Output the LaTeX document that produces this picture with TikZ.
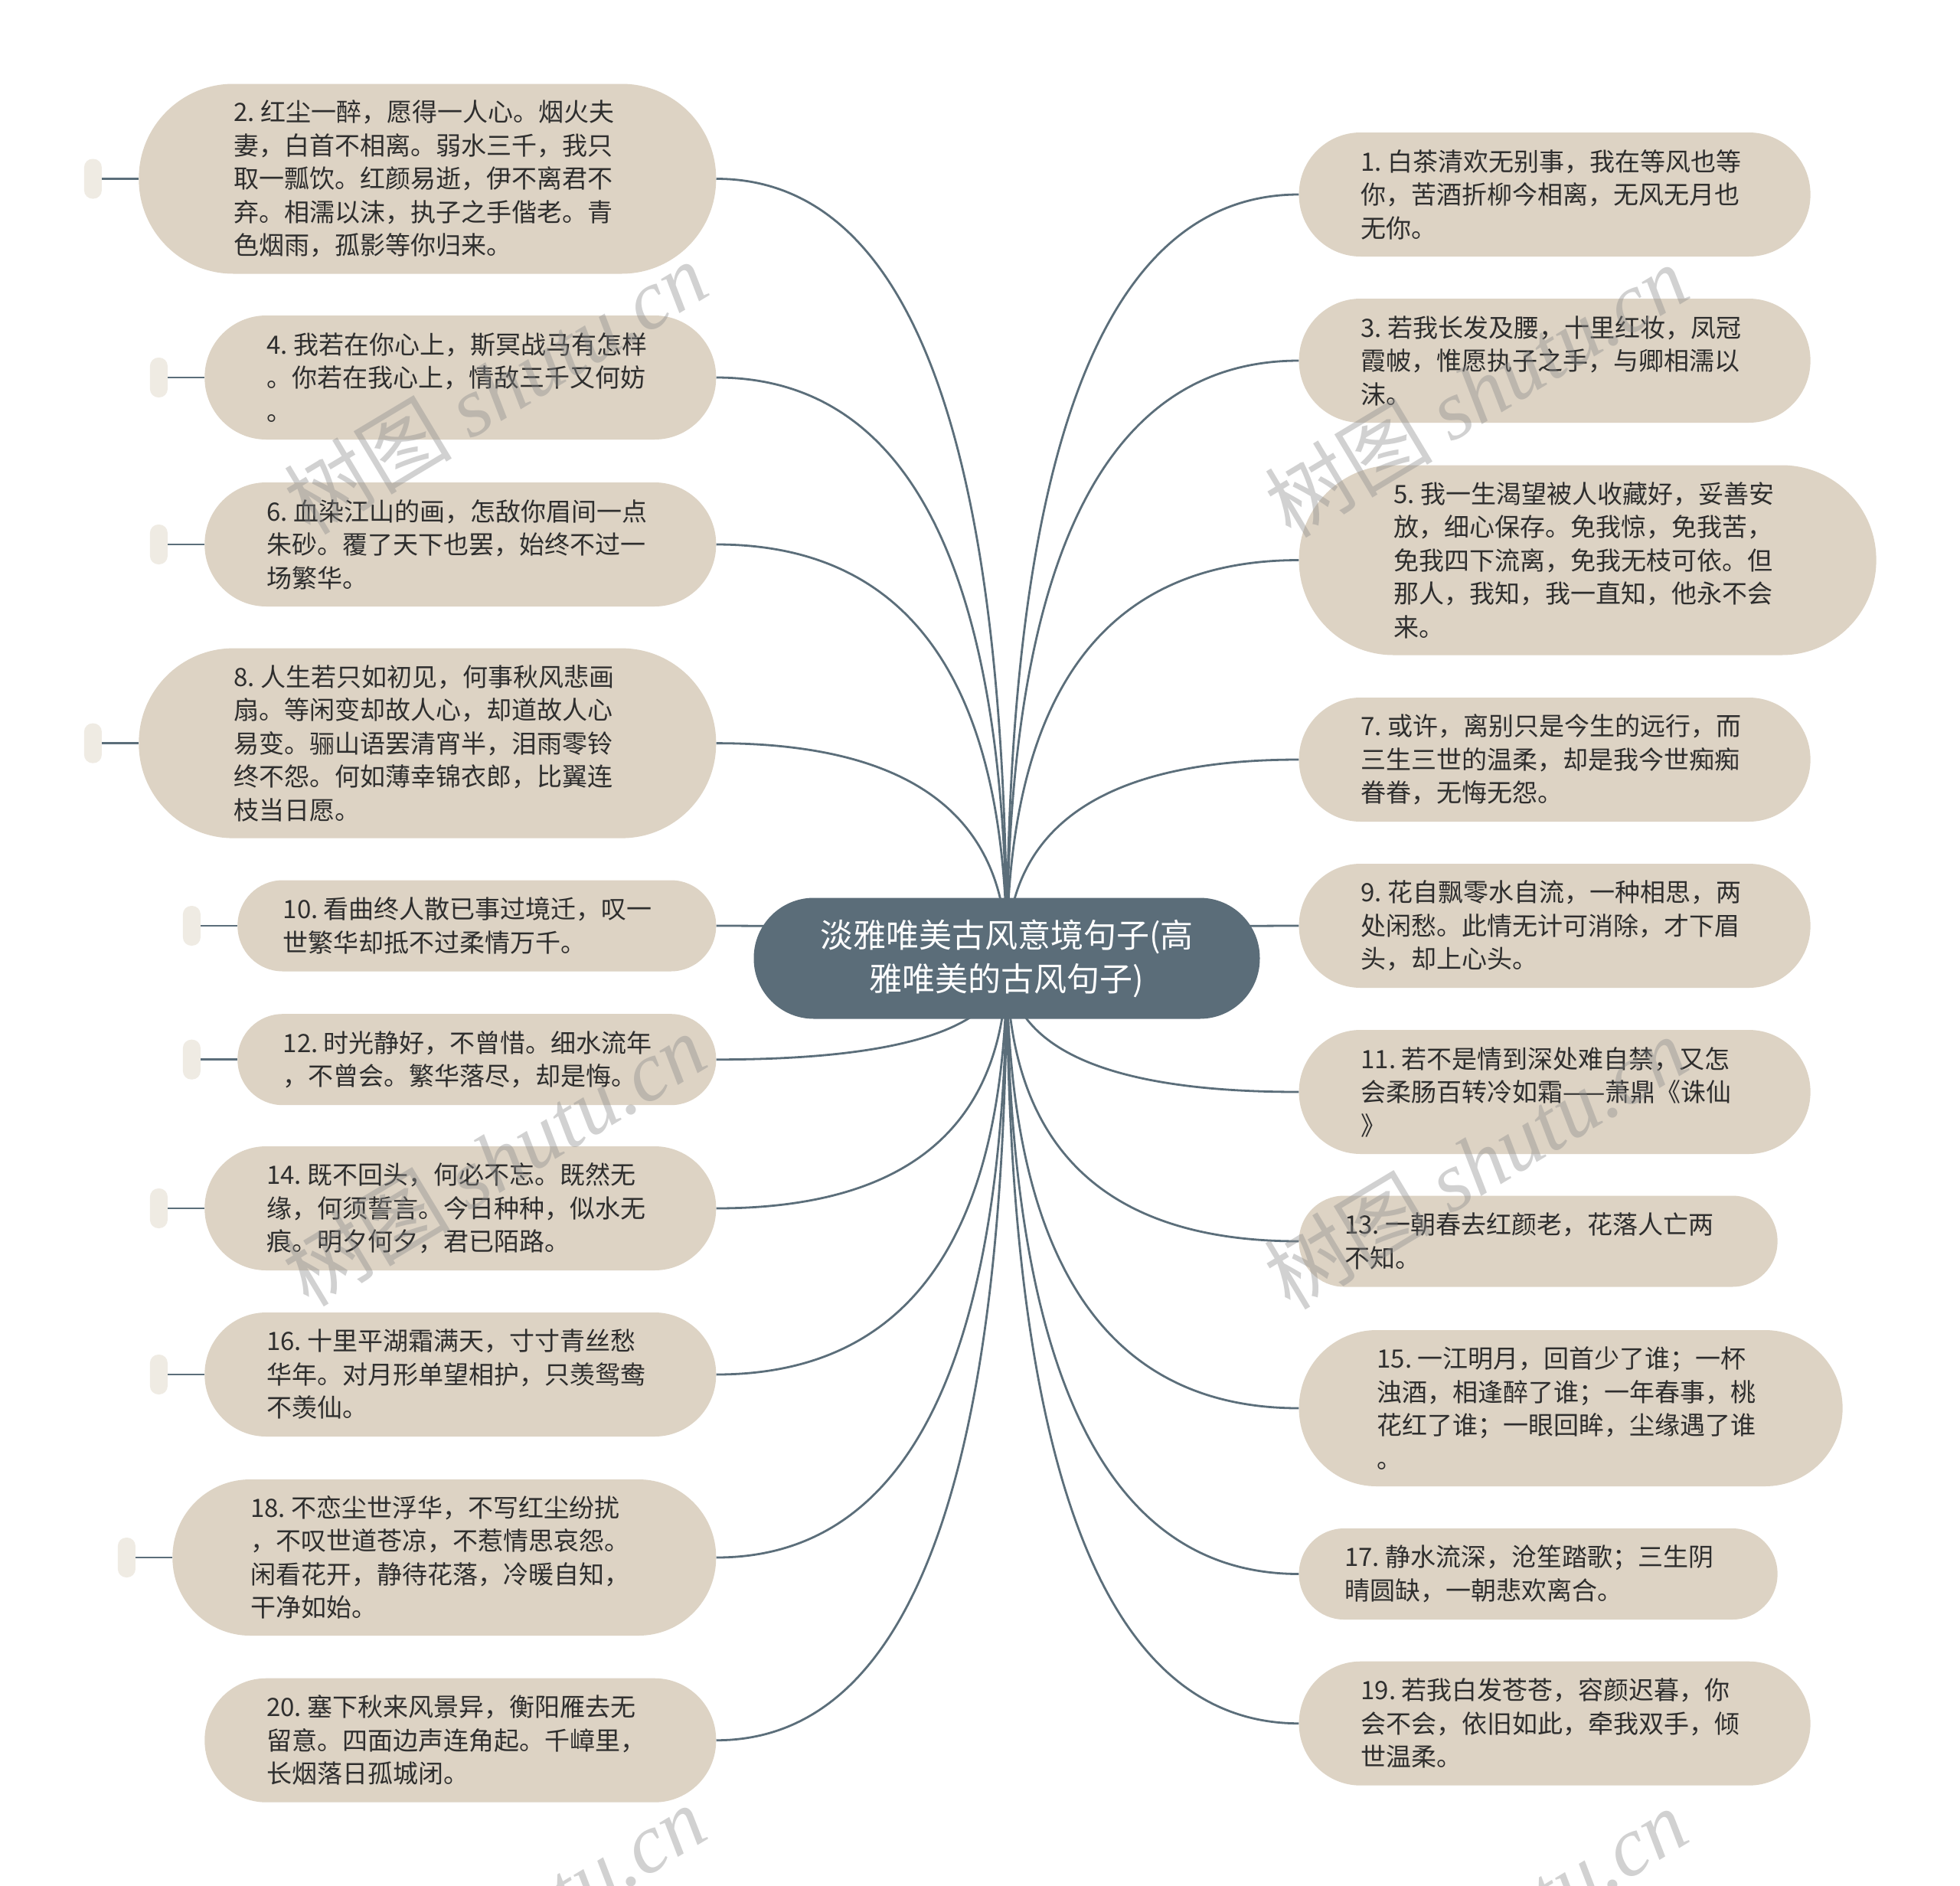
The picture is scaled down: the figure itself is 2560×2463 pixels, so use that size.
\documentclass[tikz,border=0pt]{standalone}
\usepackage{fontspec}
\setmainfont{Noto Sans CJK SC}
\newfontfamily\wmcjk{Noto Sans CJK SC}
\newfontfamily\wmlatin{Liberation Serif}
\usetikzlibrary{calc}
\definecolor{leafbg}{HTML}{DDD3C4}
\definecolor{tabbg}{HTML}{EFEBE3}
\definecolor{linec}{HTML}{5B6E7A}
\definecolor{rootbg}{HTML}{5B6D79}
\definecolor{txt}{HTML}{2E2E2E}
\definecolor{wm}{HTML}{8C8C8C}
\newcommand\nsp{\hspace{0.22em}}
\begin{document}
\begin{tikzpicture}[x=1pt,y=-1pt,
  leaf/.style={fill=leafbg,text=txt,inner sep=0pt,text width=506pt,align=left,font=\fontsize{33}{43.5}\selectfont},
  hh2/.style={minimum height=119pt,minimum width=625pt,rounded corners=59pt},
  hh3/.style={minimum height=162pt,minimum width=668pt,rounded corners=80.5pt},
  hh4/.style={minimum height=204pt,minimum width=710pt,rounded corners=101.5pt},
  hh5/.style={minimum height=248pt,minimum width=754pt,rounded corners=123.5pt},
  tabbox/.style={fill=tabbg,minimum width=23pt,minimum height=52pt,rounded corners=11pt,inner sep=0pt},
  conn/.style={draw=linec,line width=2.8pt},
  rootbox/.style={fill=rootbg,text=white,minimum width=661pt,minimum height=158pt,rounded corners=78.5pt,inner sep=0pt,align=center,font=\fontsize{43}{57}\selectfont},
  wmark/.style={text=wm,opacity=0.4,rotate=31,inner sep=0pt,font=\fontsize{110}{120}\selectfont}
]
\useasboundingbox (0,0) rectangle (2560,2463);
\fill[white] (0,0) rectangle (2560,2463);

% left leaves
\node[leaf,hh5,anchor=east] (n2) at (935.5,233.5) {2.\nsp 红尘一醉，愿得一人心。烟火夫\\妻，白首不相离。弱水三千，我只\\取一瓢饮。红颜易逝，伊不离君不\\弃。相濡以沫，执子之手偕老。青\\色烟雨，孤影等你归来。};
\node[leaf,hh3,anchor=east] (n4) at (935.5,493) {4.\nsp 我若在你心上，斯冥战马有怎样\\。你若在我心上，情敌三千又何妨\\。};
\node[leaf,hh3,anchor=east] (n6) at (935.5,711) {6.\nsp 血染江山的画，怎敌你眉间一点\\朱砂。覆了天下也罢，始终不过一\\场繁华。};
\node[leaf,hh5,anchor=east] (n8) at (935.5,970.6) {8.\nsp 人生若只如初见，何事秋风悲画\\扇。等闲变却故人心，却道故人心\\易变。骊山语罢清宵半，泪雨零铃\\终不怨。何如薄幸锦衣郎，比翼连\\枝当日愿。};
\node[leaf,hh2,anchor=east] (n10) at (935.5,1209) {10.\nsp 看曲终人散已事过境迁，叹一\\世繁华却抵不过柔情万千。};
\node[leaf,hh2,anchor=east] (n12) at (935.5,1383.7) {12.\nsp 时光静好，不曾惜。细水流年\\，不曾会。繁华落尽，却是悔。};
\node[leaf,hh3,anchor=east] (n14) at (935.5,1578) {14.\nsp 既不回头，何必不忘。既然无\\缘，何须誓言。今日种种，似水无\\痕。明夕何夕，君已陌路。};
\node[leaf,hh3,anchor=east] (n16) at (935.5,1795) {16.\nsp 十里平湖霜满天，寸寸青丝愁\\华年。对月形单望相护，只羡鸳鸯\\不羡仙。};
\node[leaf,hh4,anchor=east] (n18) at (935.5,2034) {18.\nsp 不恋尘世浮华，不写红尘纷扰\\，不叹世道苍凉，不惹情思哀怨。\\闲看花开，静待花落，冷暖自知，\\干净如始。};
\node[leaf,hh3,anchor=east] (n20) at (935.5,2272.7) {20.\nsp 塞下秋来风景异，衡阳雁去无\\留意。四面边声连角起。千嶂里，\\长烟落日孤城闭。};

% right leaves
\node[leaf,hh3,anchor=west] (n1) at (1696.4,254) {1.\nsp 白茶清欢无别事，我在等风也等\\你，苦酒折柳今相离，无风无月也\\无你。};
\node[leaf,hh3,anchor=west] (n3) at (1696.4,471) {3.\nsp 若我长发及腰，十里红妆，凤冠\\霞帔，惟愿执子之手，与卿相濡以\\沫。};
\node[leaf,hh5,anchor=west] (n5) at (1696.4,731.5) {5.\nsp 我一生渴望被人收藏好，妥善安\\放，细心保存。免我惊，免我苦，\\免我四下流离，免我无枝可依。但\\那人，我知，我一直知，他永不会\\来。};
\node[leaf,hh3,anchor=west] (n7) at (1696.4,992) {7.\nsp 或许，离别只是今生的远行，而\\三生三世的温柔，却是我今世痴痴\\眷眷，无悔无怨。};
\node[leaf,hh3,anchor=west] (n9) at (1696.4,1209) {9.\nsp 花自飘零水自流，一种相思，两\\处闲愁。此情无计可消除，才下眉\\头，却上心头。};
\node[leaf,hh3,anchor=west] (n11) at (1696.4,1426) {11.\nsp 若不是情到深处难自禁，又怎\\会柔肠百转冷如霜——萧鼎《诛仙\\》};
\node[leaf,hh2,anchor=west] (n13) at (1696.4,1621) {13.\nsp 一朝春去红颜老，花落人亡两\\不知。};
\node[leaf,hh4,anchor=west] (n15) at (1696.4,1839) {15.\nsp 一江明月，回首少了谁；一杯\\浊酒，相逢醉了谁；一年春事，桃\\花红了谁；一眼回眸，尘缘遇了谁\\。};
\node[leaf,hh2,anchor=west] (n17) at (1696.4,2055.5) {17.\nsp 静水流深，沧笙踏歌；三生阴\\晴圆缺，一朝悲欢离合。};
\node[leaf,hh3,anchor=west] (n19) at (1696.4,2250.7) {19.\nsp 若我白发苍苍，容颜迟暮，你\\会不会，依旧如此，牵我双手，倾\\世温柔。};

% tabs on the left
\foreach \n in {2,4,6,8,10,12,14,16,18}{
  \node[tabbox,anchor=east] (t\n) at ($(n\n.west)+(-48,0)$) {};
  \draw[conn] (t\n.east) -- (n\n.west);
}

% connectors
\coordinate (rc) at (1315,1251.5);
\foreach \n in {2,4,...,20}{
  \coordinate (k\n) at (rc |- n\n.east);
  \draw[conn] (rc) .. controls ($(rc)!0.6667!(k\n)$) and ($(n\n.east)!0.6667!(k\n)$) .. (n\n.east);
}
\foreach \n in {1,3,...,19}{
  \coordinate (k\n) at (rc |- n\n.west);
  \draw[conn] (rc) .. controls ($(rc)!0.6667!(k\n)$) and ($(n\n.west)!0.6667!(k\n)$) .. (n\n.west);
}

% root
\node[rootbox] (root) at (rc) {淡雅唯美古风意境句子(高\\雅唯美的古风句子)};

% watermarks
\begin{scope}
\clip (0,0) rectangle (2560,2463);
\node[wmark] (w1) at (647,506) {{\wmcjk 树图} {\wmlatin\itshape shutu.cn}};
\node[wmark] (w2) at (1928,510) {{\wmcjk 树图} {\wmlatin\itshape shutu.cn}};
\node[wmark] (w3) at (645,1514) {{\wmcjk 树图} {\wmlatin\itshape shutu.cn}};
\node[wmark] (w4) at (1927,1518) {{\wmcjk 树图} {\wmlatin\itshape shutu.cn}};
\node[wmark] (w5) at (645,2522) {{\wmcjk 树图} {\wmlatin\itshape shutu.cn}};
\node[wmark] (w6) at (1927,2526) {{\wmcjk 树图} {\wmlatin\itshape shutu.cn}};
\end{scope}
\end{tikzpicture}
\end{document}
